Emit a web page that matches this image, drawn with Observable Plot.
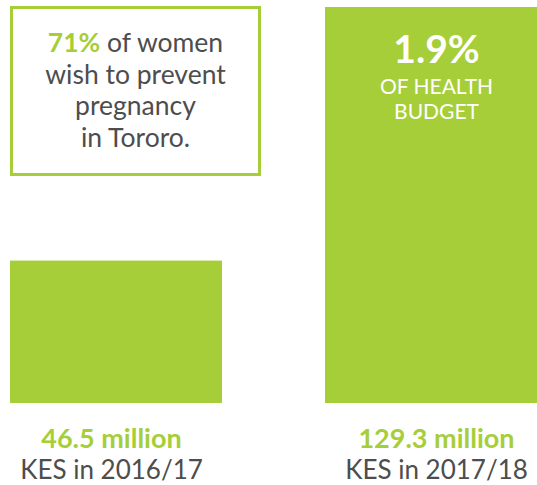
<!DOCTYPE html>
<html>
<head>
<meta charset="utf-8">
<script src="https://cdn.jsdelivr.net/npm/d3@7"></script>
<script src="https://cdn.jsdelivr.net/npm/@observablehq/plot@0.6"></script>
<style>
  html, body { margin: 0; padding: 0; background: #fff; }
  #wrap { position: relative; width: 537px; height: 485px; font-family: Lato, "Open Sans", sans-serif; }
  #wrap svg { position: absolute; left: 0; top: 0; }
  #callout {
    position: absolute; left: 10px; top: 6px; width: 245px; height: 164px;
    border: 3px solid #a6ce39; box-sizing: content-box; background: #fff;
    text-align: center; color: #4d4d4d; font-size: 26.5px; line-height: 31.7px;
  }
  #callout .inner { padding-top: 18px; }
  #callout b { color: #a6ce39; font-weight: 700; }
</style>
</head>
<body>
<div id="wrap"></div>
<script>
const categories = ["2016/17", "2017/18"];
const values = [46.5, 129.3];
const amountLabels = ["46.5 million", "129.3 million"];
const periodLabels = ["KES in 2016/17", "KES in 2017/18"];
const shareValue = ["1.9%"];
const shareLines = ["OF HEALTH", "BUDGET"];
const calloutHighlight = "71%";
const calloutLines = ["of women", "wish to prevent", "pregnancy", "in Tororo."];

const green = "#a6ce39";
const grey = "#4d4d4d";

const bars = categories.map((c, i) => ({category: c, value: values[i], amount: amountLabels[i], period: periodLabels[i]}));
const tallBar = bars[1];
const labelShift = (d) => (d.category === categories[0] ? -5 : 5);

const chart = Plot.plot({
  width: 537,
  height: 485,
  margin: 0,
  style: {fontFamily: "Lato, 'Open Sans', sans-serif", background: "transparent"},
  x: {type: "band", domain: categories, range: [10, 537], paddingInner: 0.327, paddingOuter: 0, axis: null},
  y: {domain: [0, 129.3], range: [403, 7], axis: null},
  marks: [
    Plot.barY(bars, {x: "category", y: "value", fill: green}),
    Plot.text(bars.slice(0, 1), {x: "category", y: () => 0, text: "amount", fill: green, fontSize: 27, fontWeight: 700, dx: -5, dy: 35.5}),
    Plot.text(bars.slice(1), {x: "category", y: () => 0, text: "amount", fill: green, fontSize: 27, fontWeight: 700, dx: 5, dy: 35.5}),
    Plot.text(bars.slice(0, 1), {x: "category", y: () => 0, text: "period", fill: grey, fontSize: 26, dx: -5, dy: 67.5}),
    Plot.text(bars.slice(1), {x: "category", y: () => 0, text: "period", fill: grey, fontSize: 26, dx: 5, dy: 67.5}),
    Plot.text([tallBar], {x: "category", y: "value", text: () => shareValue[0], fill: "white", fontSize: 39, fontWeight: 700, dx: 5, dy: 43.5}),
    Plot.text([tallBar], {x: "category", y: "value", text: () => shareLines[0], fill: "white", fontSize: 21, dx: 5, dy: 79.3}),
    Plot.text([tallBar], {x: "category", y: "value", text: () => shareLines[1], fill: "white", fontSize: 21, dx: 5, dy: 104.3})
  ]
});

const wrap = document.getElementById("wrap");
wrap.appendChild(chart);

const box = document.createElement("div");
box.id = "callout";
const inner = document.createElement("div");
inner.className = "inner";
inner.innerHTML = `<b>${calloutHighlight}</b> ${calloutLines[0]}<br>${calloutLines.slice(1).join("<br>")}`;
box.appendChild(inner);
wrap.appendChild(box);
</script>
</body>
</html>
